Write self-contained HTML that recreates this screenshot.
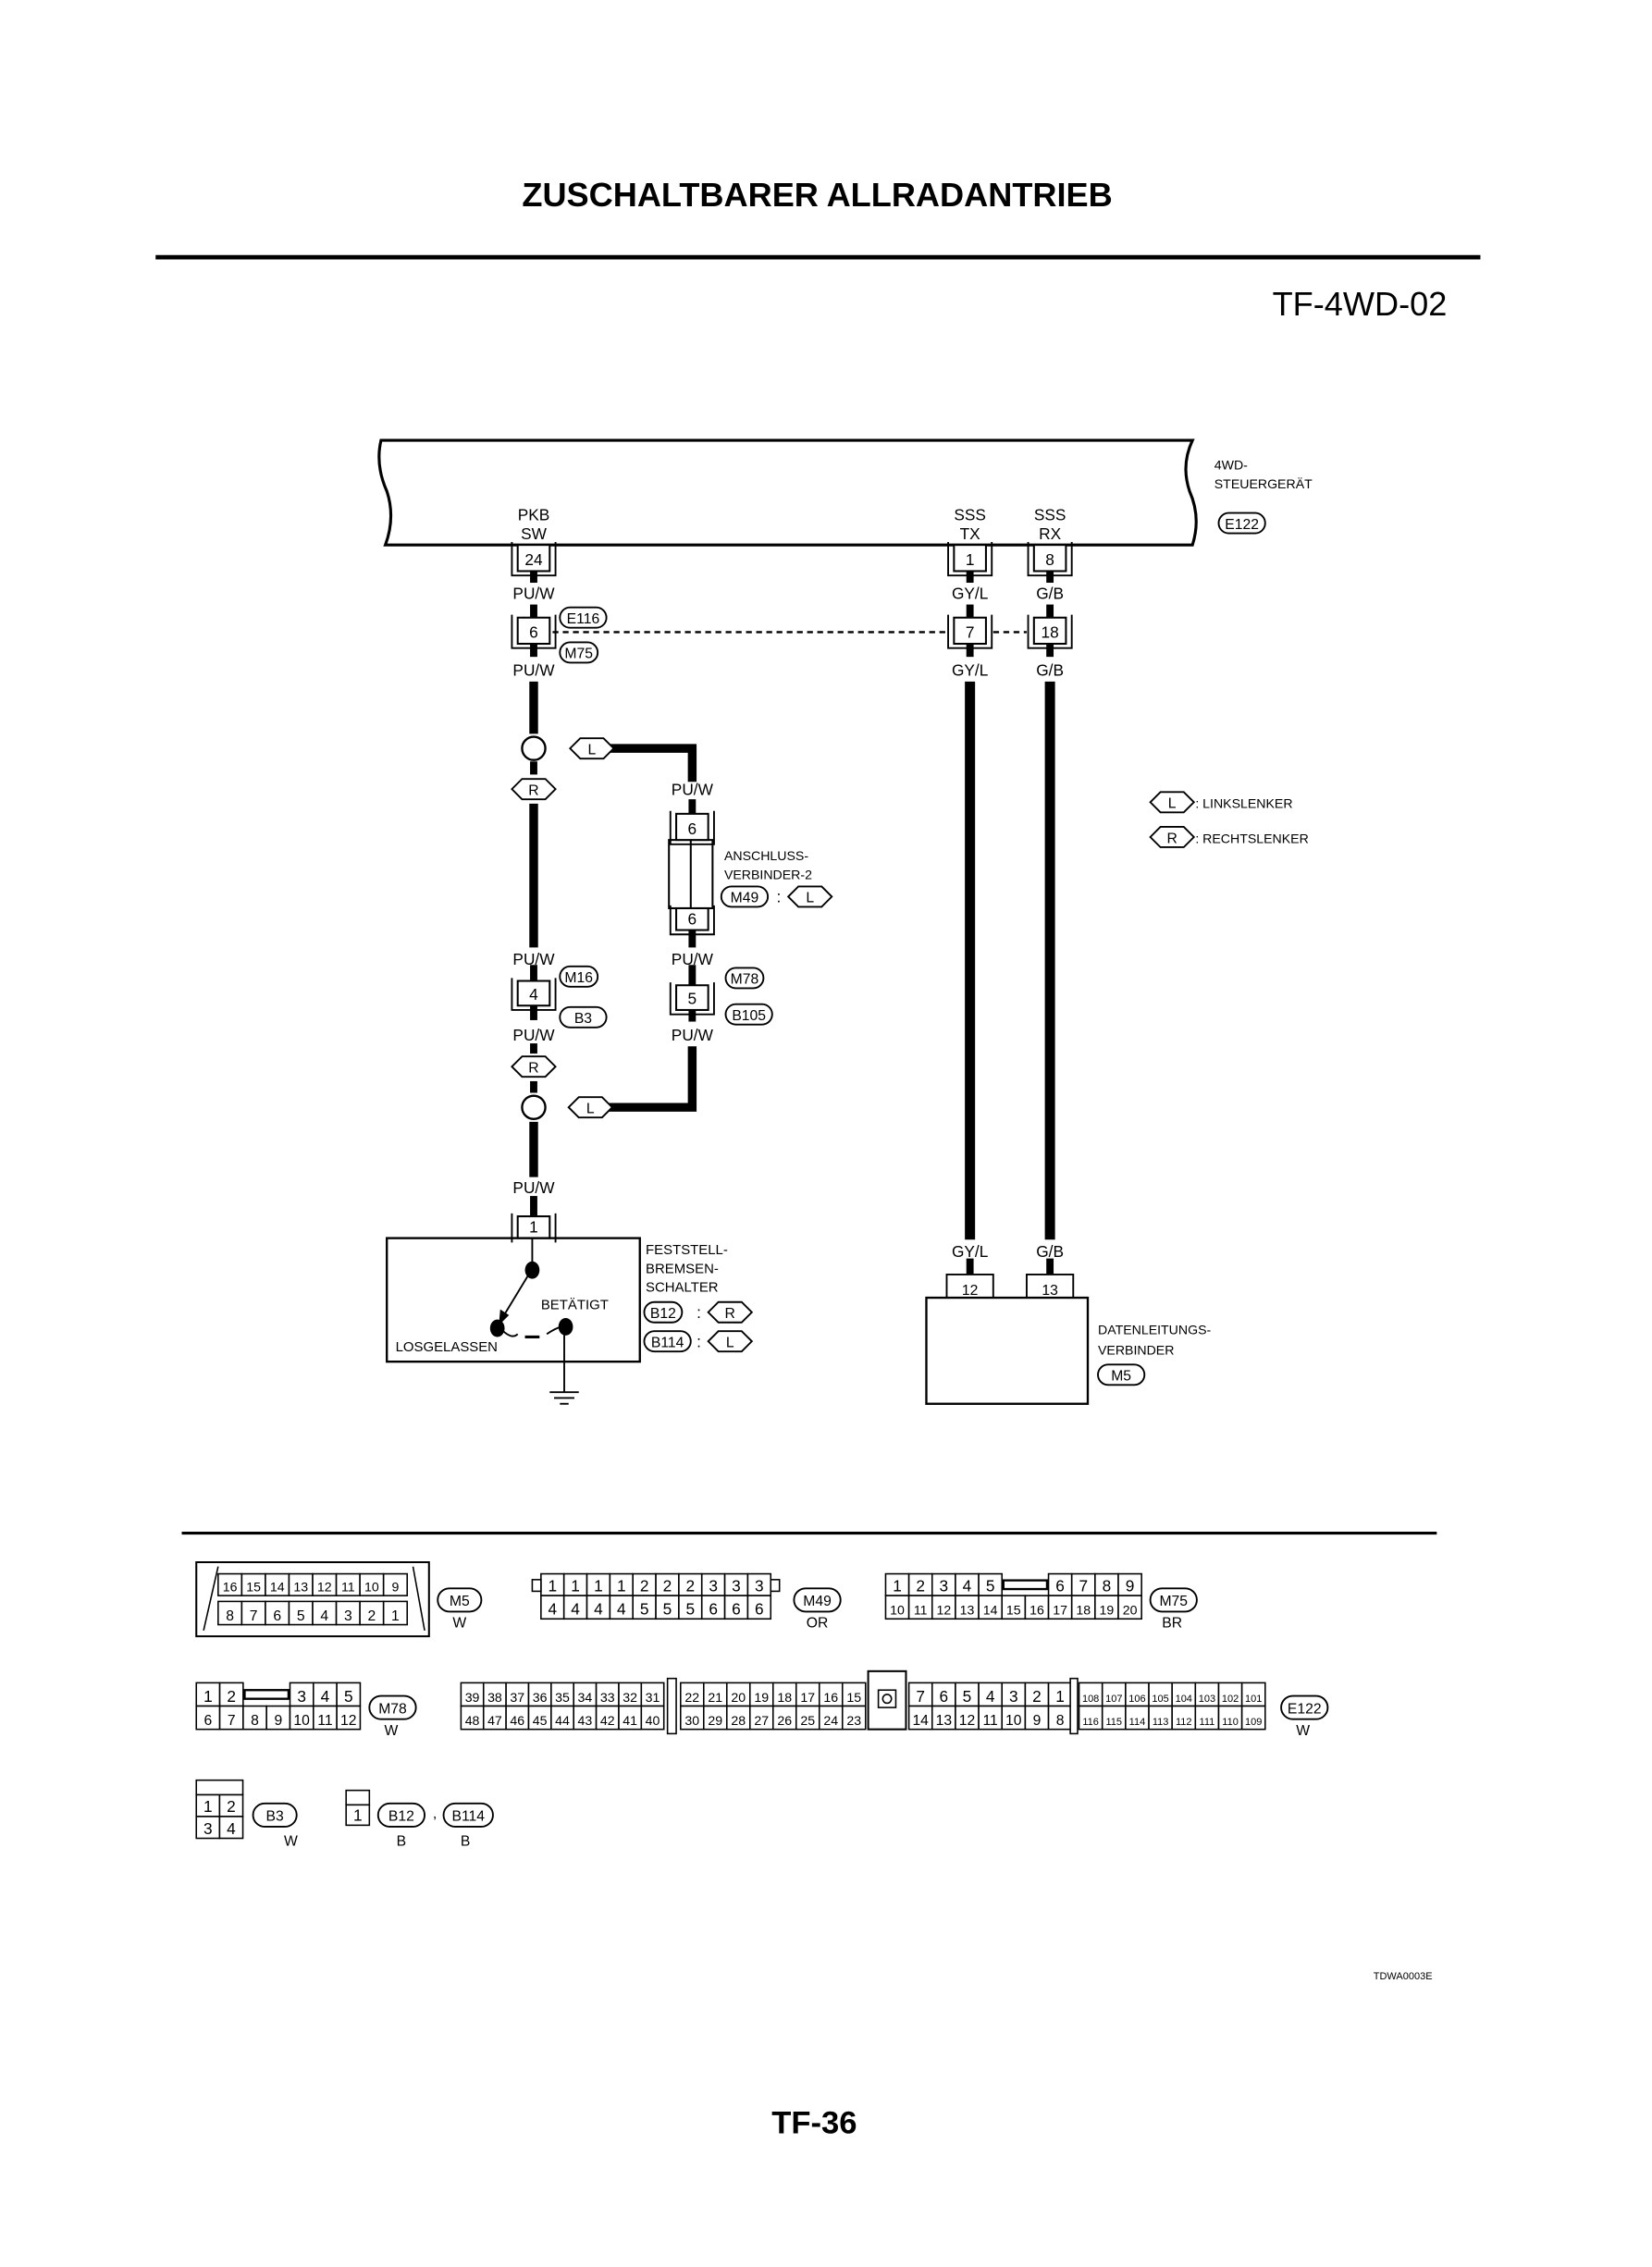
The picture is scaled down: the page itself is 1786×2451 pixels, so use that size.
<!DOCTYPE html>
<html><head><meta charset="utf-8"><style>
html,body{margin:0;padding:0;background:#fff;}
svg{display:block;}
text{font-family:"Liberation Sans",sans-serif;fill:#000;}
</style></head><body>
<svg id="s" width="1786" height="2451" viewBox="0 0 1136 1560" preserveAspectRatio="none" xmlns="http://www.w3.org/2000/svg">
<rect width="1136" height="1560" fill="#fff"/>
<text x="562" y="142" font-size="23" font-weight="bold" text-anchor="middle">ZUSCHALTBARER ALLRADANTRIEB</text>
<line x1="107" y1="177" x2="1018" y2="177" stroke="#000" stroke-width="3"/>
<text x="995" y="217" font-size="23" text-anchor="end">TF-4WD-02</text>

<path d="M262,303 L820,303 Q812,320 818,338 Q826,356 820,375 L265,375 Q272,356 266,338 Q258,320 262,303 Z" fill="none" stroke="#000" stroke-width="2"/>
<text x="835" y="323" font-size="9">4WD-</text>
<text x="835" y="336" font-size="9">STEUERGERÄT</text>
<g font-size="11" text-anchor="middle">
<text x="367" y="358">PKB</text><text x="367" y="371">SW</text>
<text x="667" y="358">SSS</text><text x="667" y="371">TX</text>
<text x="722" y="358">SSS</text><text x="722" y="371">RX</text>
</g>

<g stroke="#000" fill="none">
<line x1="367" y1="393" x2="367" y2="401" stroke-width="5"/>
<line x1="367" y1="416" x2="367" y2="425" stroke-width="5"/>
<line x1="367" y1="443" x2="367" y2="452" stroke-width="5"/>
<line x1="367" y1="469" x2="367" y2="505" stroke-width="6"/>
<path d="M416,515 L476,515 L476,538" stroke-width="6"/>
<line x1="367" y1="524" x2="367" y2="533" stroke-width="5"/>
<line x1="367" y1="553" x2="367" y2="652" stroke-width="6"/>
<line x1="367" y1="664" x2="367" y2="676" stroke-width="5"/>
<line x1="367" y1="692" x2="367" y2="702" stroke-width="5"/>
<line x1="367" y1="718" x2="367" y2="725" stroke-width="5"/>
<line x1="367" y1="744" x2="367" y2="752" stroke-width="5"/>
<line x1="367" y1="772" x2="367" y2="810" stroke-width="6"/>
<line x1="367" y1="823" x2="367" y2="838" stroke-width="5"/>
<line x1="476" y1="550" x2="476" y2="560" stroke-width="5"/>
<line x1="476" y1="640" x2="476" y2="652" stroke-width="5"/>
<line x1="476" y1="664" x2="476" y2="678" stroke-width="5"/>
<line x1="476" y1="695" x2="476" y2="703" stroke-width="5"/>
<path d="M476,720 L476,762 L418,762" stroke-width="6"/>
<line x1="667" y1="393" x2="667" y2="401" stroke-width="5"/>
<line x1="667" y1="416" x2="667" y2="425" stroke-width="5"/>
<line x1="667" y1="443" x2="667" y2="452" stroke-width="5"/>
<line x1="667" y1="469" x2="667" y2="853" stroke-width="7"/>
<line x1="667" y1="866" x2="667" y2="877" stroke-width="5"/>
<line x1="722" y1="393" x2="722" y2="401" stroke-width="5"/>
<line x1="722" y1="416" x2="722" y2="425" stroke-width="5"/>
<line x1="722" y1="443" x2="722" y2="452" stroke-width="5"/>
<line x1="722" y1="469" x2="722" y2="853" stroke-width="7"/>
<line x1="722" y1="866" x2="722" y2="877" stroke-width="5"/>
<line x1="380" y1="435" x2="650" y2="435" stroke-width="1.5" stroke-dasharray="4,3"/>
<line x1="683" y1="435" x2="706" y2="435" stroke-width="1.5" stroke-dasharray="4,3"/>
<circle cx="367" cy="515" r="8" stroke-width="1.5" fill="#fff"/>
<circle cx="367" cy="762" r="8" stroke-width="1.5" fill="#fff"/>
</g>
<g font-size="11" text-anchor="middle">
<text x="367" y="412">PU/W</text><text x="367" y="465">PU/W</text>
<text x="667" y="412">GY/L</text><text x="667" y="465">GY/L</text>
<text x="722" y="412">G/B</text><text x="722" y="465">G/B</text>
<text x="476" y="547">PU/W</text>
<text x="367" y="664">PU/W</text><text x="476" y="664">PU/W</text>
<text x="367" y="716">PU/W</text><text x="476" y="716">PU/W</text>
<text x="367" y="821">PU/W</text>
<text x="667" y="865">GY/L</text><text x="722" y="865">G/B</text>
</g>
<g stroke="#000" fill="#fff" stroke-width="1.3">
<rect x="460" y="578" width="30" height="47"/>
<line x1="475" y1="578" x2="475" y2="625"/>
</g>
<g id="conns"></g>
<g id="ovals"></g>
<text x="498" y="592" font-size="9">ANSCHLUSS-</text>
<text x="498" y="605" font-size="9">VERBINDER-2</text>
<text x="534" y="621" font-size="11">:</text>

<rect x="266" y="852" width="174" height="85" fill="none" stroke="#000" stroke-width="1.5"/>
<g stroke="#000" stroke-width="1.2" fill="none">
<line x1="366" y1="852" x2="366" y2="873"/>
<line x1="366" y1="873" x2="346" y2="906"/>
<path d="M345,915 Q352,922 356,918" /><line x1="361" y1="920" x2="371" y2="920" stroke-width="2"/>
<path d="M376,918 Q382,914 386,913"/>
<line x1="388" y1="913" x2="388" y2="958"/>
<line x1="378" y1="958" x2="398" y2="958"/><line x1="381" y1="962" x2="395" y2="962"/><line x1="385" y1="966" x2="391" y2="966"/>
</g>
<polygon points="343,912 344,901 350,905" fill="#000"/>
<ellipse cx="366" cy="874" rx="5" ry="6" fill="#000"/>
<ellipse cx="342" cy="914" rx="5" ry="6" fill="#000"/>
<ellipse cx="389" cy="913" rx="5" ry="6" fill="#000"/>
<text x="372" y="901" font-size="9.5">BETÄTIGT</text>
<text x="272" y="930" font-size="9.5">LOSGELASSEN</text>
<text x="444" y="863" font-size="9.5">FESTSTELL-</text>
<text x="444" y="876" font-size="9.5">BREMSEN-</text>
<text x="444" y="889" font-size="9.5">SCHALTER</text>
<text x="479" y="907" font-size="11">:</text><text x="479" y="927" font-size="11">:</text>

<rect x="637" y="893" width="111" height="73" fill="none" stroke="#000" stroke-width="1.5"/>
<g stroke="#000" fill="none" stroke-width="1.2">
<path d="M651,893 L651,877 L683,877 L683,893"/>
<path d="M706,893 L706,877 L738,877 L738,893"/>
</g>
<text x="667" y="891" font-size="10" text-anchor="middle">12</text>
<text x="722" y="891" font-size="10" text-anchor="middle">13</text>
<text x="755" y="918" font-size="9">DATENLEITUNGS-</text>
<text x="755" y="932" font-size="9">VERBINDER</text>

<text x="822" y="556" font-size="9">: LINKSLENKER</text>
<text x="822" y="580" font-size="9">: RECHTSLENKER</text>

<line x1="125" y1="1055" x2="988" y2="1055" stroke="#000" stroke-width="2"/>
<g id="grids"></g>
<g stroke="#000" fill="none" stroke-width="1.3">
<polygon points="135,1075 295,1075 295,1126 135,1126"/>
<line x1="150" y1="1078" x2="140" y2="1122" stroke-width="1"/>
<line x1="284" y1="1078" x2="292" y2="1122" stroke-width="1"/>
</g>
<g font-size="10" text-anchor="middle">
<text x="316" y="1120">W</text><text x="562" y="1120">OR</text><text x="806" y="1120">BR</text>
<text x="269" y="1194">W</text><text x="896" y="1194">W</text>
<text x="200" y="1270">W</text><text x="276" y="1270">B</text><text x="320" y="1270">B</text>
<text x="299" y="1251">,</text>
</g>
<text x="985" y="1362" font-size="7" text-anchor="end">TDWA0003E</text>
<text x="560" y="1468" font-size="22" font-weight="bold" text-anchor="middle">TF-36</text>
</svg>
<script>
var NS="http://www.w3.org/2000/svg";
function el(p,t,a,txt){var e=document.createElementNS(NS,t);for(var k in a)e.setAttribute(k,a[k]);if(txt!=null)e.textContent=txt;p.appendChild(e);return e;}
var ov=document.getElementById('ovals'),cn=document.getElementById('conns'),gr=document.getElementById('grids');
function oval(x,y,t,w){w=w||(t.length*6+8);el(ov,'rect',{x:x,y:y-7,width:w,height:14,rx:7,fill:'#fff',stroke:'#000','stroke-width':1.2});el(ov,'text',{x:x+w/2,y:y+4,'font-size':10,'text-anchor':'middle'},t);}
function hex(x,y,t){var w=30;el(ov,'polygon',{points:(x)+','+y+' '+(x+7)+','+(y-7)+' '+(x+w-7)+','+(y-7)+' '+(x+w)+','+y+' '+(x+w-7)+','+(y+7)+' '+(x+7)+','+(y+7),fill:'#fff',stroke:'#000','stroke-width':1.2});el(ov,'text',{x:x+w/2,y:y+4,'font-size':10,'text-anchor':'middle'},t);}
oval(838,360,'E122');oval(385,425,'E116');oval(385,449,'M75');
oval(385,672,'M16');oval(385,700,'B3',32);oval(499,673,'M78');oval(499,698,'B105');
oval(496,617,'M49',32);hex(542,617,'L');
oval(443,903,'B12');oval(443,923,'B114');hex(487,903,'R');hex(487,923,'L');
oval(755,946,'M5',32);
hex(392,515,'L');hex(352,543,'R');hex(352,734,'R');hex(391,762,'L');
hex(791,552,'L');hex(791,576,'R');
function conn(cx,y,t,h,down){h=h||18;var w=22;el(cn,'rect',{x:cx-w/2,y:y,width:w,height:h,fill:'#fff',stroke:'#000','stroke-width':1.3});
el(cn,'text',{x:cx,y:y+h-4,'font-size':11,'text-anchor':'middle'},t);
var d=down?('M'+(cx-w/2-4)+','+(y+h+3)+' L'+(cx-w/2-4)+','+(y-2)+' M'+(cx+w/2+4)+','+(y+h+3)+' L'+(cx+w/2+4)+','+(y-2)):
('M'+(cx-w/2-4)+','+(y-2)+' L'+(cx-w/2-4)+','+(y+h+3)+' L'+(cx+w/2+4)+','+(y+h+3)+' L'+(cx+w/2+4)+','+(y-2));
el(cn,'path',{d:d,fill:'none',stroke:'#000','stroke-width':1.2});}
conn(367,375,'24');conn(667,375,'1');conn(722,375,'8');
conn(367,425,'6');conn(667,425,'7');conn(722,425,'18');
conn(476,560,'6');conn(476,625,'6',15);conn(367,675,'4',17);conn(476,678,'5',17);conn(367,837,'1',15,true);
function row(x,y,w,h,labels,fs){labels.forEach(function(l,i){if(l==='')return;if(l==='#'){el(gr,'rect',{x:x+i*w+1,y:y+h/2-3,width:w*2-2,height:6,fill:'none',stroke:'#000','stroke-width':1.5});return;}if(l==='_')return;
el(gr,'rect',{x:x+i*w,y:y,width:w,height:h,fill:'#fff',stroke:'#000','stroke-width':1});el(gr,'text',{x:x+i*w+w/2,y:y+h-3,'font-size':fs||11,'text-anchor':'middle'},l);});}
row(150,1083,16.25,15,['16','15','14','13','12','11','10','9'],9);
row(150,1102,16.25,16,['8','7','6','5','4','3','2','1'],10);
row(372,1083,15.8,15,['1','1','1','1','2','2','2','3','3','3']);
row(372,1098,15.8,16,['4','4','4','4','5','5','5','6','6','6']);
el(gr,'rect',{x:366,y:1087,width:6,height:8,fill:'#fff',stroke:'#000'});el(gr,'rect',{x:530,y:1087,width:6,height:8,fill:'#fff',stroke:'#000'});
row(609,1083,16,15,['1','2','3','4','5','#','_','6','7','8','9']);
row(609,1098,16,16,['10','11','12','13','14','15','16','17','18','19','20'],9);
row(135,1158,16.1,16,['1','2','#','_','3','4','5']);
row(135,1174,16.1,16,['6','7','8','9','10','11','12'],10);
row(317,1158,15.5,16,['39','38','37','36','35','34','33','32','31'],9);
row(317,1174,15.5,16,['48','47','46','45','44','43','42','41','40'],9);
row(468,1158,15.9,16,['22','21','20','19','18','17','16','15'],9);
row(468,1174,15.9,16,['30','29','28','27','26','25','24','23'],9);
row(625,1158,16,16,['7','6','5','4','3','2','1']);
row(625,1174,16,16,['14','13','12','11','10','9','8'],10);
row(742,1158,16,16,['108','107','106','105','104','103','102','101'],7);
row(742,1174,16,16,['116','115','114','113','112','111','110','109'],7);
el(gr,'rect',{x:459,y:1155,width:6,height:38,fill:'#fff',stroke:'#000'});
el(gr,'rect',{x:736,y:1155,width:5,height:38,fill:'#fff',stroke:'#000'});
el(gr,'rect',{x:597,y:1150,width:26,height:40,fill:'#fff',stroke:'#000','stroke-width':1.3});
el(gr,'rect',{x:604,y:1163,width:12,height:12,fill:'none',stroke:'#000'});
el(gr,'circle',{cx:610,cy:1169,r:3,fill:'none',stroke:'#000'});
row(135,1235,16,15,['1','2']);row(135,1250,16,15,['3','4']);
el(gr,'rect',{x:135,y:1225,width:32,height:10,fill:'#fff',stroke:'#000'});
el(gr,'rect',{x:238,y:1232,width:16,height:10,fill:'#fff',stroke:'#000'});
row(238,1242,16,14,['1']);
function ov2(x,y,t,w){el(gr,'rect',{x:x,y:y-8,width:w,height:16,rx:8,fill:'#fff',stroke:'#000','stroke-width':1.2});el(gr,'text',{x:x+w/2,y:y+4,'font-size':10,'text-anchor':'middle'},t);}
ov2(301,1101,'M5',30);ov2(546,1101,'M49',32);ov2(791,1101,'M75',32);
ov2(254,1175,'M78',32);ov2(881,1175,'E122',32);
ov2(174,1249,'B3',30);ov2(260,1249,'B12',32);ov2(305,1249,'B114',34);
</script>
</body></html>
